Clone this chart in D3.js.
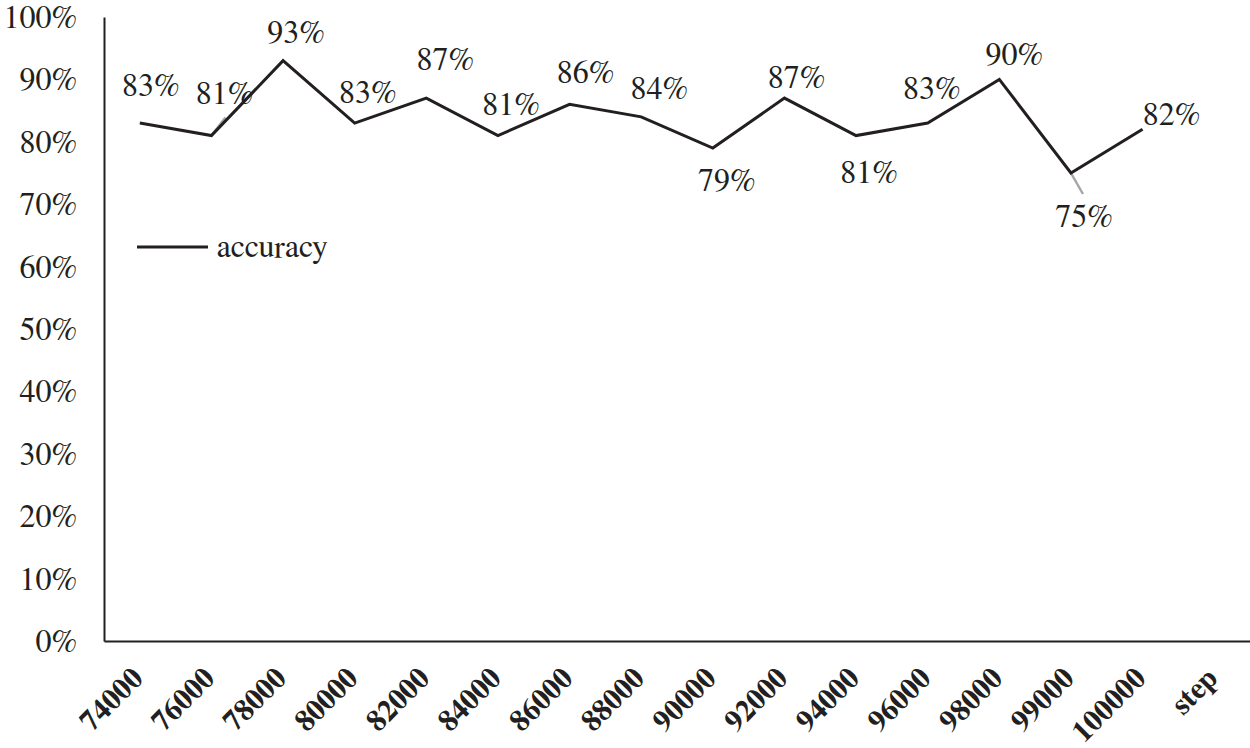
<!DOCTYPE html>
<html>
<head>
<meta charset="utf-8">
<script src="https://cdn.jsdelivr.net/npm/d3@7"></script>
<style>
  html, body { margin: 0; padding: 0; background: #fff; }
  svg { display: block; }
</style>
</head>
<body>
<svg id="chart" width="1250" height="748"></svg>
<script>
// ---- data ----
const categories = ["74000","76000","78000","80000","82000","84000","86000","88000",
                    "90000","92000","94000","96000","98000","99000","100000","step"];
const accuracy = [0.83, 0.81, 0.93, 0.83, 0.87, 0.81, 0.86, 0.84,
                  0.79, 0.87, 0.81, 0.83, 0.90, 0.75, 0.82];
const yTickValues = [0, 0.1, 0.2, 0.3, 0.4, 0.5, 0.6, 0.7, 0.8, 0.9, 1.0];
const seriesName = "accuracy";

// ---- layout (label placement relative to each point) ----
const labelOffsets = [[11,-27],[13,-32],[13,-18],[13,-20],[19,-28],[13,-21],[16,-21],[18,-18],
                      [14,43],[12,-10],[13,47],[4,-24],[15,-14],[13,54],[29,-4]];
const leaderLines = {1: [14,-18], 13: [12,21]};

const ink = "#231f20";
const FONT = "'FreeSerif', 'Liberation Serif', 'Times New Roman', serif";
const svg = d3.select("#chart");
const margin = {left: 104, right: 0, top: 17, bottom: 107};
const W = 1250, H = 748;

const x = d3.scaleBand().domain(categories).range([margin.left, W - margin.right]).paddingInner(0).paddingOuter(0);
const y = d3.scaleLinear().domain([0, 1]).range([H - margin.bottom, margin.top]);
const cx = c => x(c) + x.bandwidth() / 2;

// y axis
const yAxis = svg.append("g")
  .attr("transform", `translate(${margin.left},0)`)
  .call(d3.axisLeft(y).tickValues(yTickValues).tickSize(0).tickPadding(27).tickFormat(d3.format(".0%")));
yAxis.select(".domain").attr("stroke", ink).attr("stroke-width", 2);
yAxis.selectAll("text").style("font-size", "32px").style("font-family", FONT)
  .attr("fill", ink).attr("dy", "0.33em");

// x axis
const xAxis = svg.append("g")
  .attr("transform", `translate(0,${y(0)})`)
  .call(d3.axisBottom(x).tickSize(0).tickSizeOuter(0));
xAxis.select(".domain").attr("stroke", ink).attr("stroke-width", 2);
xAxis.selectAll(".tick").attr("transform", null);
xAxis.selectAll(".tick text")
  .style("font-size", "30px").style("font-weight", "bold").style("font-family", FONT)
  .attr("fill", ink)
  .attr("text-anchor", "end")
  .attr("x", null).attr("y", null).attr("dy", null)
  .attr("transform", d => `translate(${cx(d) + 5},${680 - y(0)}) rotate(-45)`);

const pts = accuracy.map((v, i) => ({c: categories[i], v, i}));

// leader lines
Object.keys(leaderLines).forEach(k => {
  const p = pts[+k], o = leaderLines[k];
  svg.append("line")
    .attr("x1", cx(p.c)).attr("y1", y(p.v))
    .attr("x2", cx(p.c) + o[0]).attr("y2", y(p.v) + o[1])
    .attr("stroke", "#a6a6a6").attr("stroke-width", 2.5);
});

// line
svg.append("path")
  .datum(pts)
  .attr("fill", "none")
  .attr("stroke", ink)
  .attr("stroke-width", 3)
  .attr("stroke-linejoin", "miter")
  .attr("d", d3.line().x(d => cx(d.c)).y(d => y(d.v)));

// data labels
svg.append("g").selectAll("text")
  .data(pts)
  .join("text")
  .attr("x", d => cx(d.c) + labelOffsets[d.i][0])
  .attr("y", d => y(d.v) + labelOffsets[d.i][1])
  .attr("text-anchor", "middle")
  .attr("fill", ink)
  .style("font-size", "32px").style("font-family", FONT)
  .text(d => d3.format(".0%")(d.v));

// legend
const lg = svg.append("g");
lg.append("line").attr("x1", 137).attr("x2", 208).attr("y1", 247).attr("y2", 247)
  .attr("stroke", ink).attr("stroke-width", 3);
lg.append("text").attr("x", 217).attr("y", 257).attr("fill", ink)
  .style("font-size", "32px").style("font-family", FONT).text(seriesName);
</script>
</body>
</html>
